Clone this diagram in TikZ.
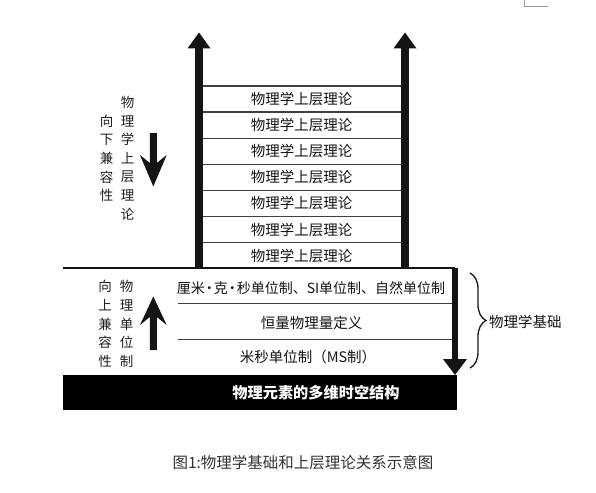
\documentclass[tikz,border=0pt]{standalone}
\usepackage{fontspec}
\setmainfont{Noto Sans CJK SC}
\usetikzlibrary{decorations.pathreplacing}
\newcommand{\mydot}{\makebox[9pt]{·}}
\begin{document}
\begin{tikzpicture}[x=1pt,y=-1pt,
  rowtxt/.style={inner sep=0pt, font=\fontsize{14.5}{16}\selectfont, text=black!92},
  vtxt/.style={inner sep=0pt, align=center, font=\fontsize{13.5}{18.6}\selectfont, text=black!88},
  sepline/.style={draw=black!75, line width=1.4pt},
  shaft/.style={line width=7.5pt, draw=black!92},
  headfill/.style={fill=black!92},
]
\useasboundingbox (0,0) rectangle (596,492);
\fill[white] (0,0) rectangle (596,492);
% corner mark
\draw[black!40, line width=1pt] (524.5,0) -- (524.5,6.5) -- (548,6.5);

% two upward arrows framing the upper theories
\coordinate (lb) at (199,268);
\coordinate (lt) at (199,47);
\coordinate (rb) at (405,268);
\coordinate (rt) at (405,47);
\draw[shaft] (lb) -- (lt);
\draw[shaft] (rb) -- (rt);
\fill[headfill] (187.5,48.5) -- (199,32.5) -- (210.5,48.5) -- cycle;
\fill[headfill] (393.5,48.5) -- (405,32.5) -- (416.5,48.5) -- cycle;

% upper theory rows
\foreach \i in {0,...,6} {
  \draw[sepline] (203,{86+\i*26.1}) -- (401,{86+\i*26.1});
  \node[rowtxt] (r\i) at (301.7,{99+\i*26.1}) {物理学上层理论};
}

% left labels (upper)
\node[vtxt] (vl1) at (106.7,158.3) {向\\下\\兼\\容\\性};
\node[vtxt] (vl2) at (127.7,158) {物\\理\\学\\上\\层\\理\\论};
\fill[headfill] (149.8,133) -- (156.8,133) -- (156.8,163) -- (166.7,155) -- (153.3,186.5) -- (140,155) -- (149.8,163) -- cycle;

% base line and lower rows
\coordinate (bl) at (62.7,268);
\coordinate (br) at (455,268);
\draw[line width=1.5pt, black!92] (bl) -- (br);
\draw[sepline] (178,303.3) -- (452,303.3);
\draw[sepline] (178,339.3) -- (452,339.3);
\node[rowtxt, font=\fontsize{14}{16}\selectfont] (b1) at (311,288) {厘米\mydot 克\mydot 秒单位制、SI单位制、自然单位制};
\node[rowtxt] (b2) at (311.5,322.5) {恒量物理量定义};
\node[rowtxt] (b3) at (308,357) {米秒单位制（MS制）};

% down arrow on the right
\coordinate (dt) at (455,267.5);
\coordinate (dh) at (455,360);
\draw[line width=6.8pt, black!92] (dt) -- (dh);
\fill[headfill] (443,359) -- (455,375) -- (467,359) -- cycle;

% left labels (lower)
\node[vtxt] (vb1) at (105,324) {向\\上\\兼\\容\\性};
\node[vtxt] (vb2) at (126.7,324) {物\\理\\单\\位\\制};
\fill[headfill] (149.8,350) -- (156.8,350) -- (156.8,317) -- (166.7,325) -- (153.3,296.5) -- (140,325) -- (149.8,317) -- cycle;

% black base band
\fill[black] (62.7,375) rectangle (456.7,410);
\node[inner sep=0pt, text=white, font=\fontsize{15.2}{17}\selectfont\bfseries] (band) at (316,393) {物理元素的多维时空结构};

% brace
\draw[decorate, decoration={brace, amplitude=16pt}, line width=1.3pt, black!90] (470,273) -- (470,368);
\node[rowtxt, anchor=west] (base) at (489,321.5) {物理学基础};

% caption
\node[inner sep=0pt, font=\fontsize{15.5}{17}\selectfont, text=black!80] (cap) at (303,463) {图1:物理学基础和上层理论关系示意图};
\end{tikzpicture}
\end{document}
